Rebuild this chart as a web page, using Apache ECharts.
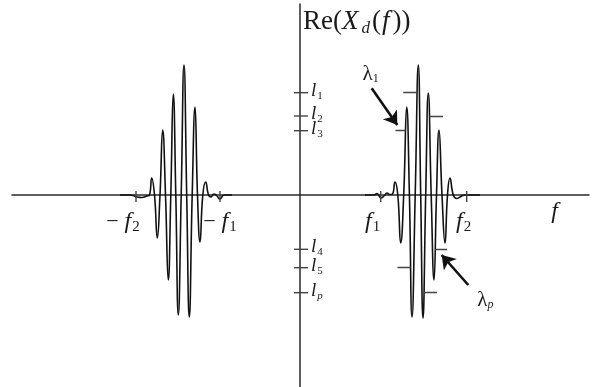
<!DOCTYPE html>
<html>
<head>
<meta charset="utf-8">
<script src="https://cdn.jsdelivr.net/npm/echarts@6/dist/echarts.min.js"></script>
<style>
  html, body { margin: 0; padding: 0; background: #fff; }
  #chart { width: 598px; height: 387px; }
</style>
</head>
<body>
<div id="chart"></div>
<script>
// ---- Spectrum data: Re(Xd(f)) of a band-limited pulse (even in f) ----

// Positive-frequency lobe: frequency samples and real-part values
const rightFreq = [0.65, 0.74, 0.77, 0.81, 0.84, 0.87, 0.90, 0.925, 0.95, 0.978,
  1.007, 1.037, 1.067, 1.094, 1.12, 1.152, 1.183, 1.207, 1.23, 1.257,
  1.283, 1.312, 1.34, 1.365, 1.39, 1.42, 1.45, 1.475, 1.50, 1.533,
  1.567, 1.60, 1.65, 1.80];
const rightAmp = [0, 0, 0.015, -0.03, -0.01, 0.02, 0.005, 0.01, 0.13, 0,
  -0.48, 0, 0.88, 0, -1.22, 0, 1.30, 0, -1.23, 0,
  1.02, 0, -0.85, 0, 0.65, 0, -0.48, 0, 0.17, 0,
  -0.035, -0.02, 0, 0];

// Negative-frequency lobe
const leftFreq = [-1.80, -1.70, -1.63, -1.58, -1.53, -1.505, -1.483, -1.455, -1.427, -1.40,
  -1.373, -1.345, -1.317, -1.292, -1.267, -1.242, -1.217, -1.188, -1.16, -1.133,
  -1.107, -1.078, -1.05, -1.025, -1.00, -0.972, -0.943, -0.915, -0.89, -0.86,
  -0.83, -0.80, -0.76, -0.68];
const leftAmp = [0, 0, -0.02, -0.025, -0.01, 0, 0.17, 0, -0.43, 0,
  0.65, 0, -0.85, 0, 1.01, 0, -1.20, 0, 1.30, 0,
  -1.22, 0, 0.88, 0, -0.47, 0, 0.13, 0, -0.02, 0.01,
  -0.01, -0.04, 0, 0];

// Band edges on the frequency axis: -f2, -f1, f1, f2
const freqTickValues = [-1.64, -0.80, 0.807, 1.667];
const freqTickSigns = ['−', '−', '', ''];
const freqTickSubs = ['2', '1', '1', '2'];

// Threshold levels l1..lp on the Re axis
const levelSubs = ['1', '2', '3', '4', '5', 'p'];
const levelValues = [1.023, 0.79, 0.643, -0.543, -0.727, -0.977];
// Where each level meets the positive lobe (start / end frequency of the mark)
const levelMarkFrom = [1.033, 1.295, 0.955, 1.352, 0.975, 1.241];
const levelMarkTo = [1.170, 1.430, 1.055, 1.470, 1.105, 1.370];

// Pointers λ1 and λp: tail and head positions
const arrowSubs = ['1', 'p'];
const arrowTail = [[0.717, 1.067], [1.683, -0.90]];
const arrowHead = [[0.973, 0.70], [1.417, -0.60]];

// ---- Drawing ----
const FONT = '"Liberation Serif", "Times New Roman", serif';
const INK = '#111';
const AXIS = '#2a2a2a';

const chart = echarts.init(document.getElementById('chart'), null, { renderer: 'canvas' });

function pairs(xs, ys) { return xs.map((x, i) => [x, ys[i]]); }

const tickSeries = (isFreq) => ({
  type: 'custom',
  silent: true,
  z: 4,
  data: isFreq ? freqTickValues.map(v => [v, 0]) : levelValues.map(v => [0, v]),
  renderItem: (params, api) => {
    const p = api.coord([api.value(0), api.value(1)]);
    const shape = isFreq
      ? { x1: p[0], y1: p[1] - 4, x2: p[0], y2: p[1] + 7 }
      : { x1: p[0] - 6, y1: p[1], x2: p[0] + 8, y2: p[1] };
    return { type: 'line', shape, style: { stroke: '#444', lineWidth: 1.4 } };
  }
});

const option = {
  animation: false,
  backgroundColor: '#fff',
  grid: { left: 12, right: 9, top: 4, bottom: 0, containLabel: false },
  xAxis: {
    type: 'value', min: -2.88, max: 2.89,
    axisLine: { show: true, onZero: true, lineStyle: { color: AXIS, width: 1.5 } },
    axisTick: { show: false }, axisLabel: { show: false }, splitLine: { show: false }
  },
  yAxis: {
    type: 'value', min: -1.92, max: 1.91,
    axisLine: { show: true, onZero: true, lineStyle: { color: AXIS, width: 1.5 } },
    axisTick: { show: false }, axisLabel: { show: false }, splitLine: { show: false }
  },
  series: [
    {
      name: 'positive lobe', type: 'line', data: pairs(rightFreq, rightAmp),
      smooth: 0.5, showSymbol: false, silent: true, z: 3,
      lineStyle: { color: INK, width: 1.6 }
    },
    {
      name: 'negative lobe', type: 'line', data: pairs(leftFreq, leftAmp),
      smooth: 0.5, showSymbol: false, silent: true, z: 3,
      lineStyle: { color: INK, width: 1.6 }
    },
    tickSeries(true),
    tickSeries(false),
    {
      name: 'level marks', type: 'lines', coordinateSystem: 'cartesian2d',
      silent: true, z: 4, symbol: ['none', 'none'],
      lineStyle: { color: '#444', width: 1.4, opacity: 1 },
      data: levelValues.map((v, i) => ({ coords: [[levelMarkFrom[i], v], [levelMarkTo[i], v]] }))
    },
    {
      name: 'pointers', type: 'lines', coordinateSystem: 'cartesian2d',
      silent: true, z: 5, symbol: ['none', 'arrow'], symbolSize: [10, 13],
      lineStyle: { color: INK, width: 2.6, opacity: 1 },
      data: arrowTail.map((t, i) => ({ coords: [t, arrowHead[i]] }))
    }
  ]
};
chart.setOption(option);

// ---- Text with italic symbols and subscripts ----
const measureCtx = document.createElement('canvas').getContext('2d');
function fontOf(r) { return (r.italic ? 'italic ' : '') + r.size + 'px ' + FONT; }
function textRuns(runs, x, y, align) {
  const widths = runs.map(r => { measureCtx.font = fontOf(r); return measureCtx.measureText(r.t).width; });
  const total = widths.reduce((a, b) => a + b, 0) + runs.reduce((a, r) => a + (r.gap || 0), 0);
  let cx = align === 'center' ? x - total / 2 : (align === 'right' ? x - total : x);
  const out = [];
  runs.forEach((r, i) => {
    cx += r.gap || 0;
    out.push({
      type: 'text', x: cx, y: y + (r.dy || 0), silent: true, z: 10,
      style: { text: r.t, font: fontOf(r), fill: '#1a1a1a', align: 'left', verticalAlign: 'middle' }
    });
    cx += widths[i];
  });
  return out;
}
const px = (x, y) => chart.convertToPixel({ gridIndex: 0 }, [x, y]);

const els = [];
// Axis title beside the vertical axis
const origin = px(0, 0);
const yTop = px(0, 1.91);
els.push(...textRuns([
  { t: 'Re(', size: 27 },
  { t: 'X', size: 27, italic: true },
  { t: 'd', size: 17, italic: true, dy: 7, gap: 3 },
  { t: '(', size: 27, gap: 2 },
  { t: 'f', size: 27, italic: true, gap: 1 },
  { t: '))', size: 27, gap: 3 }
], origin[0] + 3, yTop[1] + 18, 'left'));

// Frequency axis name
const fName = px(2.545, 0);
els.push(...textRuns([{ t: 'f', size: 24, italic: true }], fName[0], fName[1] + 17, 'center'));

// Band-edge labels
const freqLabelShift = [-13, 0, -8, -3];
freqTickValues.forEach((v, i) => {
  const p = px(v, 0);
  const runs = [];
  if (freqTickSigns[i]) runs.push({ t: freqTickSigns[i], size: 22 });
  runs.push({ t: 'f', size: 24, italic: true, gap: freqTickSigns[i] ? 6 : 0 });
  runs.push({ t: freqTickSubs[i], size: 15, dy: 5, gap: 1 });
  els.push(...textRuns(runs, p[0] + freqLabelShift[i], p[1] + 27, 'center'));
});

// Level labels l1..lp
levelValues.forEach((v, i) => {
  const p = px(0, v);
  els.push(...textRuns([
    { t: 'l', size: 19, italic: true },
    { t: levelSubs[i], size: 11, italic: levelSubs[i] === 'p', dy: 5, gap: 1 }
  ], p[0] + 11, p[1] - 2, 'left'));
});

// Pointer labels λ1, λp
const arrowLabelShift = [[-1, -14], [17, 15]];
arrowTail.forEach((t, i) => {
  const p = px(t[0], t[1]);
  els.push(...textRuns([
    { t: 'λ', size: 21 },
    { t: arrowSubs[i], size: 12, italic: arrowSubs[i] === 'p', dy: 5, gap: 0 }
  ], p[0] + arrowLabelShift[i][0], p[1] + arrowLabelShift[i][1], 'center'));
});

chart.setOption({ graphic: { elements: els } });
</script>
</body>
</html>
